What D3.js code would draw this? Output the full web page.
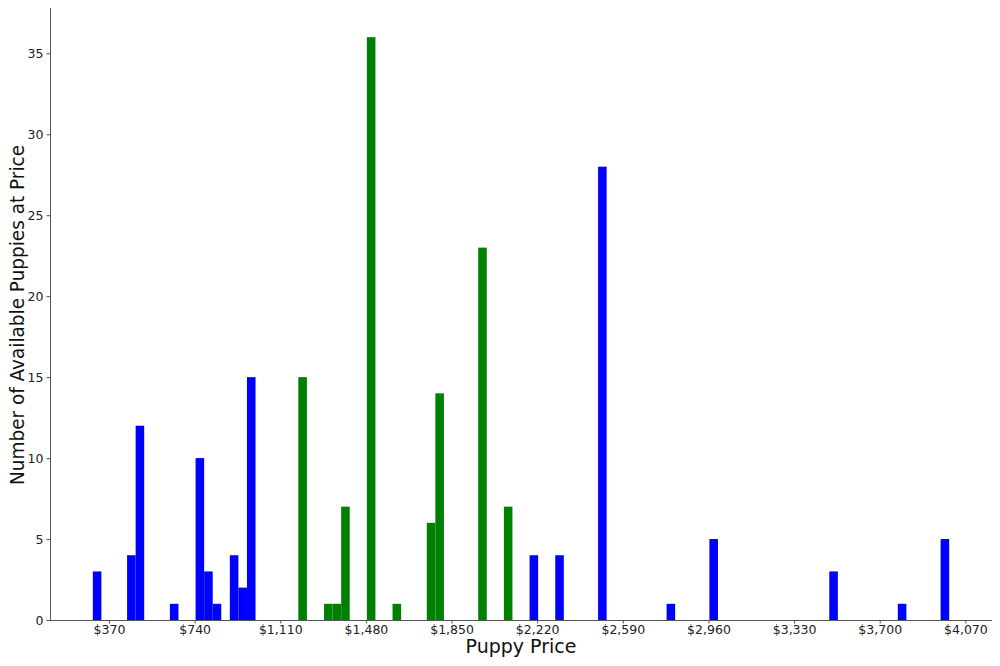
<!DOCTYPE html>
<html>
<head>
<meta charset="utf-8">
<script src="https://cdn.jsdelivr.net/npm/d3@7"></script>
<style>
  body { margin: 0; background: #fff; }
  svg { display: block; font-family: "DejaVu Sans", sans-serif; }
</style>
</head>
<body>
<svg id="chart" width="1000" height="666"></svg>
<script>
// ---- data ----
const priceMin = 300;
const priceMax = 4000;
const binWidth = 37;
const blueBinStarts = [300, 448, 485, 633, 744, 781, 818, 892, 929, 966, 2187, 2298, 2483, 2779, 2964, 3482, 3778, 3963];
const blueCounts    = [3, 4, 12, 1, 10, 3, 1, 4, 2, 15, 4, 4, 28, 1, 5, 3, 1, 5];
const greenBinStarts = [1188, 1299, 1336, 1373, 1484, 1595, 1743, 1780, 1965, 2076];
const greenCounts    = [15, 1, 1, 7, 36, 1, 6, 14, 23, 7];
const xTickValues = [370, 740, 1110, 1480, 1850, 2220, 2590, 2960, 3330, 3700, 4070];
const yTickValues = [0, 5, 10, 15, 20, 25, 30, 35];
const seriesColors = { blue: "#0000ff", green: "#008000" };

const bars = [];
blueBinStarts.forEach((s, i) => bars.push({ start: s, count: blueCounts[i], color: seriesColors.blue }));
greenBinStarts.forEach((s, i) => bars.push({ start: s, count: greenCounts[i], color: seriesColors.green }));

// ---- layout ----
const svg = d3.select("#chart");
const mLeft = 50, mRight = 992, mTop = 8, mBottom = 620;
const span = priceMax - priceMin;
const x = d3.scaleLinear().domain([priceMin - 0.05 * span, priceMax + 0.05 * span]).range([mLeft, mRight]);
const yMax = d3.max(bars, d => d.count) * 1.05;
const y = d3.scaleLinear().domain([0, yMax]).range([mBottom, mTop]);

svg.append("g").selectAll("rect").data(bars).join("rect")
  .attr("x", d => x(d.start))
  .attr("width", d => x(d.start + binWidth) - x(d.start))
  .attr("y", d => y(d.count))
  .attr("height", d => y(0) - y(d.count))
  .attr("fill", d => d.color);

const fmt = d => "$" + d3.format(",")(d);
const xAxis = svg.append("g").attr("transform", `translate(0,${mBottom})`)
  .call(d3.axisBottom(x).tickValues(xTickValues).tickFormat(fmt).tickSizeOuter(0).tickSize(3.5).tickPadding(1.5));
const yAxis = svg.append("g").attr("transform", `translate(${mLeft},0)`)
  .call(d3.axisLeft(y).tickValues(yTickValues).tickSizeOuter(0).tickSize(3.5).tickPadding(3));

[xAxis, yAxis].forEach(g => {
  g.select(".domain").attr("stroke", "#555").attr("stroke-width", 1);
  g.selectAll(".tick line").attr("stroke", "#555");
  g.selectAll(".tick text").attr("fill", "#222").style("font-size", "12.5px").style("font-family", "DejaVu Sans");
});
xAxis.select(".domain").attr("d", `M${mLeft},0.5H${mRight}`);
yAxis.select(".domain").attr("d", `M0.5,${mBottom}V${mTop}`);

svg.append("text")
  .attr("x", 521)
  .attr("y", 653)
  .attr("text-anchor", "middle")
  .attr("fill", "#111")
  .style("font-size", "19px")
  .text("Puppy Price");

svg.append("text")
  .attr("transform", `translate(24,315) rotate(-90)`)
  .attr("text-anchor", "middle")
  .attr("fill", "#111")
  .style("font-size", "20px")
  .attr("textLength", 340)
  .attr("lengthAdjust", "spacingAndGlyphs")
  .text("Number of Available Puppies at Price");
</script>
</body>
</html>
